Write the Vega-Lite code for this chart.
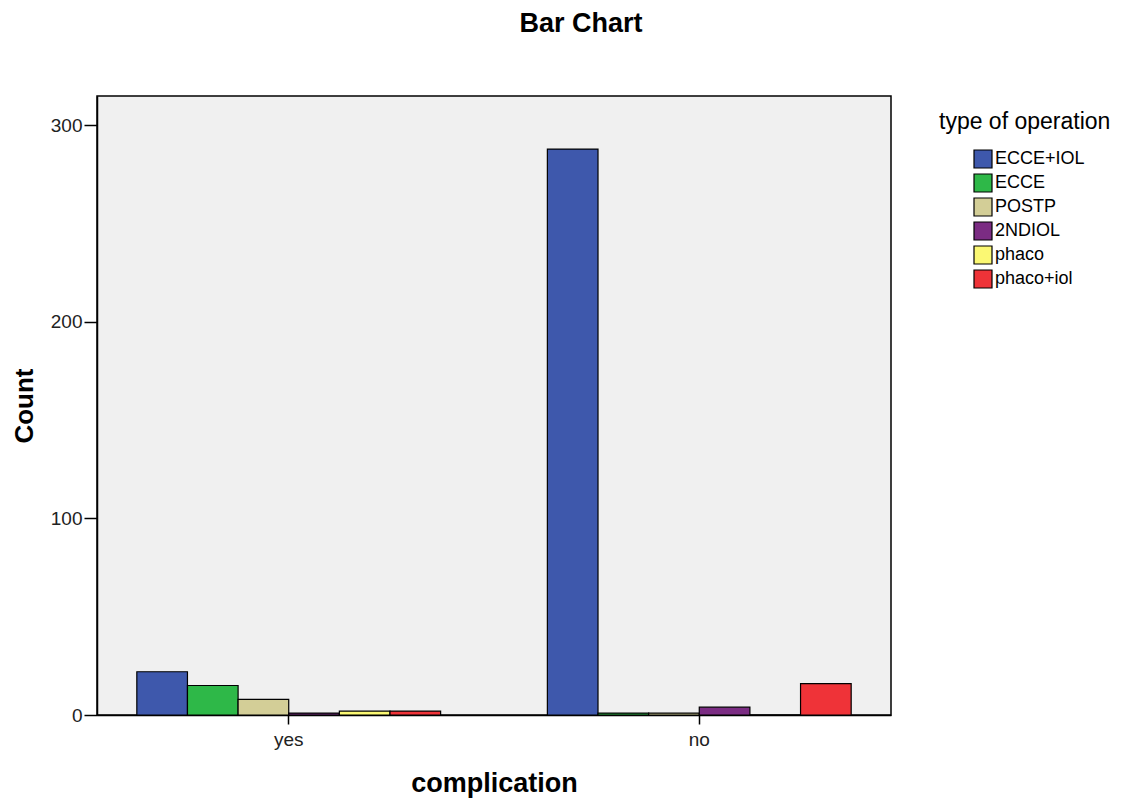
{
  "$schema": "https://vega.github.io/schema/vega-lite/v6.json",
  "width": 794,
  "height": 619,
  "autosize": {"type": "none"},
  "padding": {"left": 97, "top": 96, "right": 247, "bottom": 83},
  "background": "white",
  "title": {
    "text": "Bar Chart",
    "font": "Liberation Sans",
    "fontSize": 27,
    "fontWeight": "bold",
    "color": "#000000",
    "anchor": "middle",
    "dx": 87,
    "offset": 58
  },
  "data": {
    "values": [
      {"complication": "yes", "type": "ECCE+IOL", "count": 22},
      {"complication": "yes", "type": "ECCE", "count": 15},
      {"complication": "yes", "type": "POSTP", "count": 8},
      {"complication": "yes", "type": "2NDIOL", "count": 1},
      {"complication": "yes", "type": "phaco", "count": 2},
      {"complication": "yes", "type": "phaco+iol", "count": 2},
      {"complication": "no", "type": "ECCE+IOL", "count": 288},
      {"complication": "no", "type": "ECCE", "count": 1},
      {"complication": "no", "type": "POSTP", "count": 1},
      {"complication": "no", "type": "2NDIOL", "count": 4},
      {"complication": "no", "type": "phaco", "count": 0},
      {"complication": "no", "type": "phaco+iol", "count": 16}
    ]
  },
  "mark": {"type": "bar", "stroke": "#000000", "strokeWidth": 1.2},
  "encoding": {
    "x": {
      "field": "complication",
      "type": "nominal",
      "sort": ["yes", "no"],
      "scale": {"paddingInner": 0.26, "paddingOuter": 0.097},
      "axis": {
        "title": "complication",
        "titleFont": "Liberation Sans",
        "titleFontSize": 27,
        "titleFontWeight": "bold",
        "titleColor": "#000000",
        "titlePadding": 21,
        "labelFont": "Liberation Sans",
        "labelFontSize": 19,
        "labelColor": "#222222",
        "labelAngle": 0,
        "labelPadding": 6,
        "tickSize": 9,
        "tickColor": "#000000",
        "tickWidth": 1.5,
        "domainColor": "#000000",
        "domainWidth": 1.5
      }
    },
    "xOffset": {
      "field": "type",
      "type": "nominal",
      "sort": ["ECCE+IOL", "ECCE", "POSTP", "2NDIOL", "phaco", "phaco+iol"],
      "scale": {"paddingInner": 0, "paddingOuter": 0}
    },
    "y": {
      "field": "count",
      "type": "quantitative",
      "scale": {"domain": [0, 315], "nice": false},
      "axis": {
        "title": "Count",
        "values": [0, 100, 200, 300],
        "grid": false,
        "titleFont": "Liberation Sans",
        "titleFontSize": 26,
        "titleFontWeight": "bold",
        "titleColor": "#000000",
        "titlePadding": 13,
        "labelFont": "Liberation Sans",
        "labelFontSize": 19,
        "labelColor": "#222222",
        "labelPadding": 2,
        "tickSize": 13,
        "tickColor": "#000000",
        "tickWidth": 1.5,
        "domainColor": "#000000",
        "domainWidth": 1.5
      }
    },
    "color": {
      "field": "type",
      "type": "nominal",
      "sort": ["ECCE+IOL", "ECCE", "POSTP", "2NDIOL", "phaco", "phaco+iol"],
      "scale": {
        "domain": ["ECCE+IOL", "ECCE", "POSTP", "2NDIOL", "phaco", "phaco+iol"],
        "range": ["#3E58AC", "#2EB848", "#D3CE97", "#7B2C83", "#FBF873", "#EF3338"]
      },
      "legend": {
        "title": "type of operation",
        "orient": "right",
        "offset": 33,
        "padding": 15,
        "titleFont": "Liberation Sans",
        "titleFontSize": 23,
        "titleFontWeight": "normal",
        "titleColor": "#000000",
        "titlePadding": 15,
        "labelFont": "Liberation Sans",
        "labelFontSize": 18,
        "labelColor": "#000000",
        "labelOffset": 2,
        "symbolType": "square",
        "symbolSize": 324,
        "symbolStrokeColor": "#000000",
        "symbolStrokeWidth": 1.2,
        "symbolOpacity": 1,
        "symbolOffset": 34,
        "rowPadding": 0
      }
    }
  },
  "config": {
    "view": {"fill": "#F0F0F0", "stroke": "#000000", "strokeWidth": 1.5}
  }
}
